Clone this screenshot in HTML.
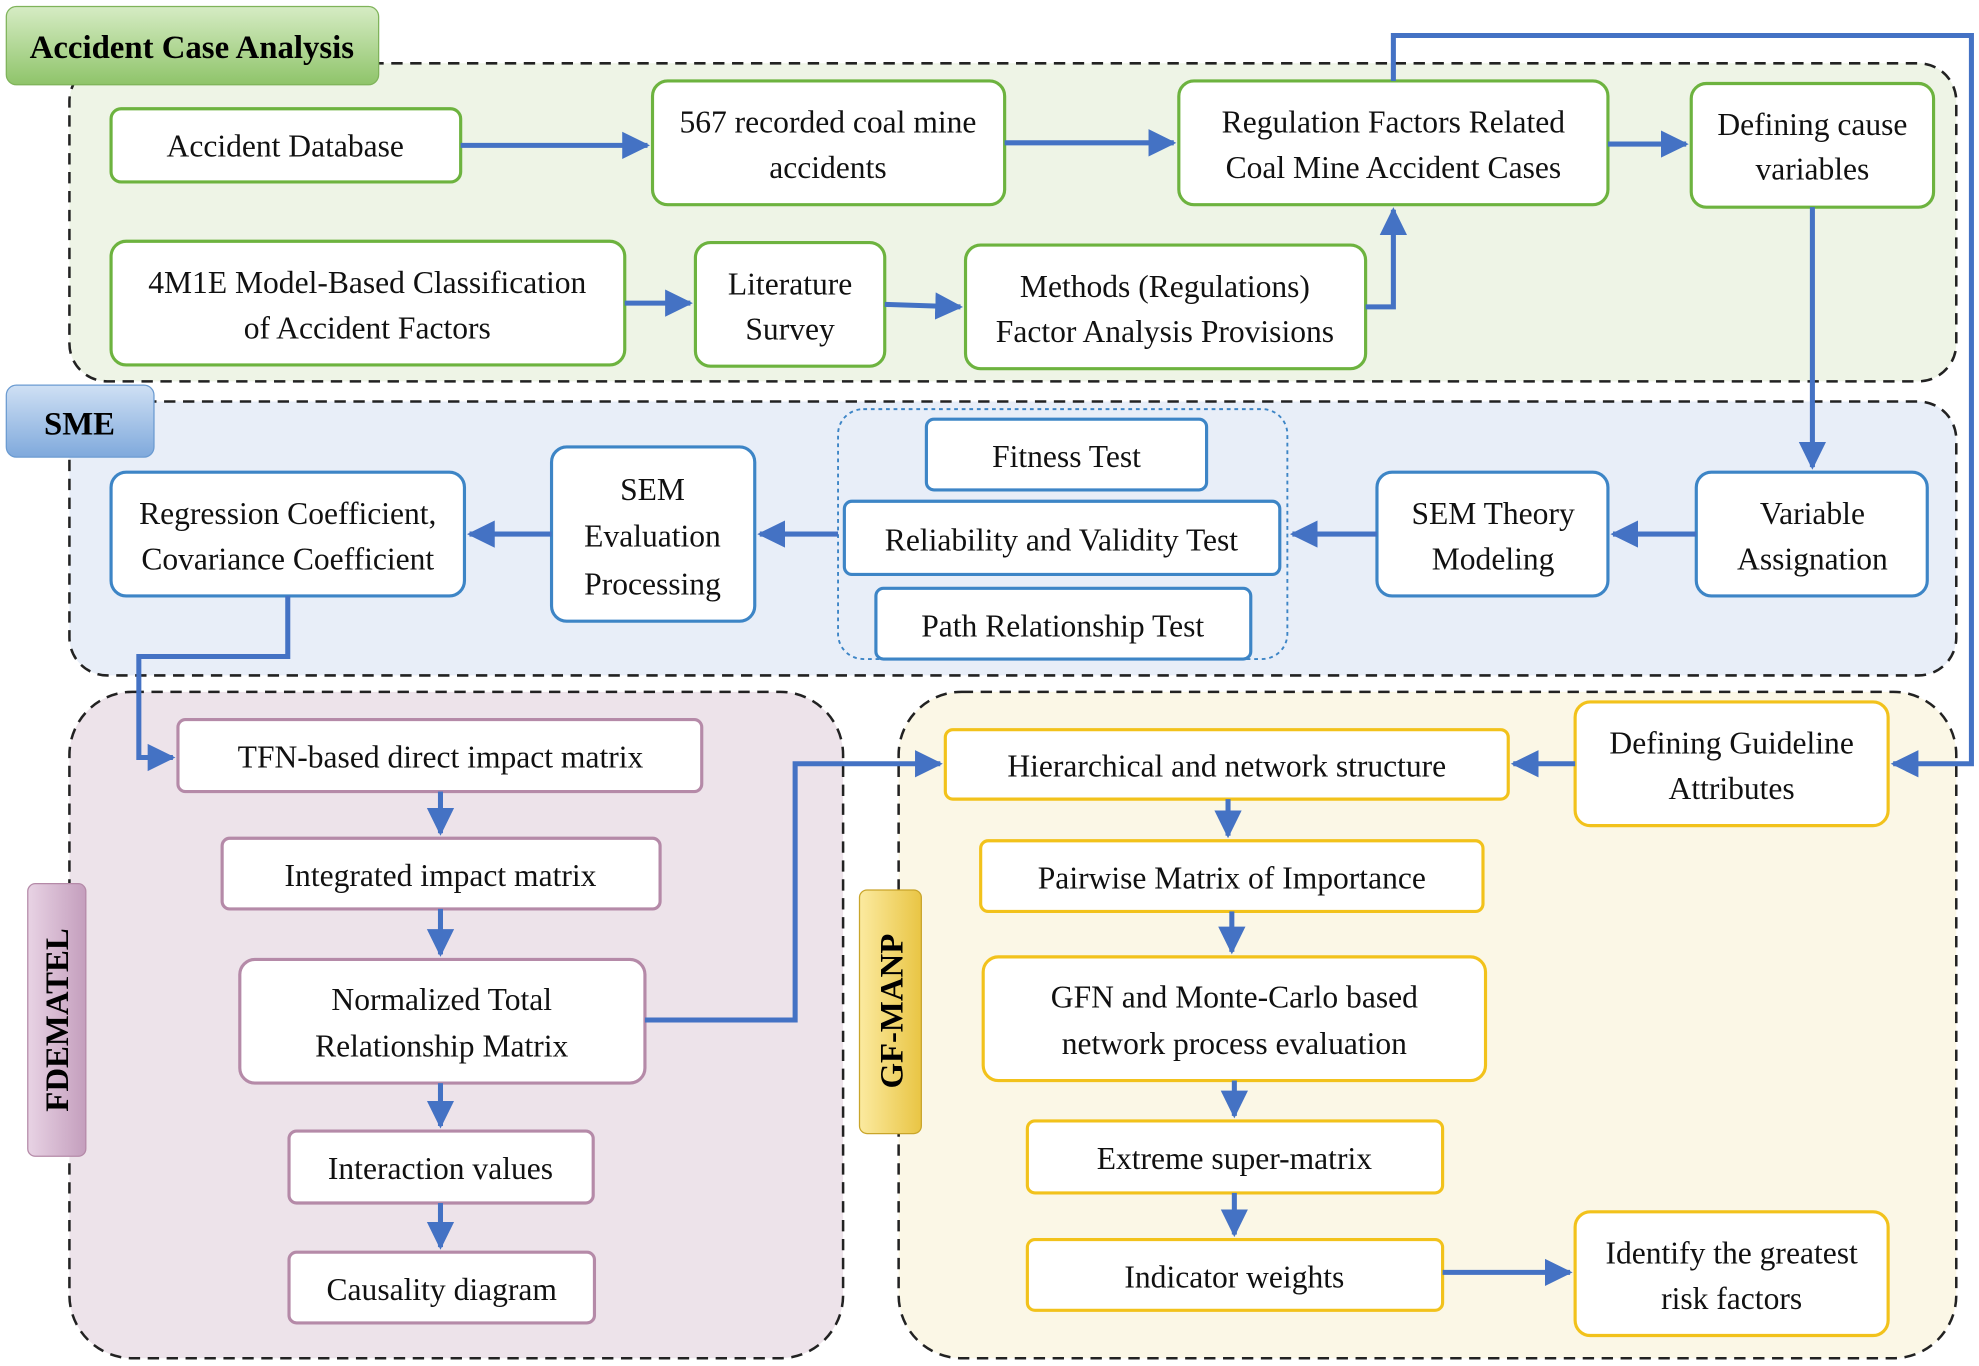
<!DOCTYPE html>
<html><head><meta charset="utf-8"><style>html,body{margin:0;padding:0;background:#fff}svg{display:block}</style></head><body>
<svg width="1979" height="1366" viewBox="0 0 1568 1082" xmlns="http://www.w3.org/2000/svg" font-family="Liberation Serif, serif">
<defs>
<marker id="a" markerWidth="6" markerHeight="6" refX="5" refY="3" orient="auto" markerUnits="strokeWidth"><path d="M0,0.3 L5.5,3 L0,5.7 z" fill="#4472c4"/></marker>
<linearGradient id="gg" x1="0" y1="0" x2="0" y2="1"><stop offset="0" stop-color="#d6ecc4"/><stop offset="1" stop-color="#8fc46a"/></linearGradient>
<linearGradient id="gb" x1="0" y1="0" x2="0" y2="1"><stop offset="0" stop-color="#cfe0f4"/><stop offset="1" stop-color="#7fa9dc"/></linearGradient>
<linearGradient id="gp" x1="0" y1="0" x2="1" y2="0"><stop offset="0" stop-color="#e8d3e4"/><stop offset="1" stop-color="#c49ebd"/></linearGradient>
<linearGradient id="gy" x1="0" y1="0" x2="1" y2="0"><stop offset="0" stop-color="#fbeaa0"/><stop offset="1" stop-color="#e9c544"/></linearGradient>
</defs>
<g stroke="#222" stroke-width="2" stroke-dasharray="9,6">
<rect x="55" y="50" width="1495" height="252" rx="30" fill="#eef4e6"/>
<rect x="55" y="318" width="1495" height="217" rx="30" fill="#e8eef8"/>
<rect x="55" y="548" width="613" height="528" rx="50" fill="#ede3ea"/>
<rect x="712" y="548" width="838" height="528" rx="50" fill="#fbf7e6"/>
</g>
<rect x="5" y="5" width="295" height="62" rx="8" fill="url(#gg)" stroke="#7fb35a"/>
<text x="152" y="46" font-size="26" font-weight="bold" text-anchor="middle">Accident Case Analysis</text>
<rect x="5" y="305" width="117" height="57" rx="8" fill="url(#gb)" stroke="#6b9bd1"/>
<text x="63" y="344" font-size="26" font-weight="bold" text-anchor="middle">SME</text>
<rect x="22" y="700" width="46" height="216" rx="6" fill="url(#gp)" stroke="#b58aa8"/>
<text transform="translate(54,808) rotate(-90)" font-size="26" font-weight="bold" text-anchor="middle">FDEMATEL</text>
<rect x="681" y="705" width="49" height="193" rx="6" fill="url(#gy)" stroke="#c9a52a"/>
<text transform="translate(715,801) rotate(-90)" font-size="26" font-weight="bold" text-anchor="middle">GF-MANP</text>
<rect x="664" y="324" width="356" height="198" rx="20" fill="none" stroke="#3d85c6" stroke-width="1.5" stroke-dasharray="3,3"/>
<g fill="#fff" stroke-width="2.5">
<g stroke="#6db33f">
<rect x="88" y="86" width="277" height="58" rx="8"/><rect x="517" y="64" width="279" height="98" rx="12"/>
<rect x="934" y="64" width="340" height="98" rx="12"/><rect x="1340" y="66" width="192" height="98" rx="12"/>
<rect x="88" y="191" width="407" height="98" rx="12"/><rect x="551" y="192" width="150" height="98" rx="12"/>
<rect x="765" y="194" width="317" height="98" rx="12"/></g>
<g stroke="#3d85c6">
<rect x="88" y="374" width="280" height="98" rx="12"/><rect x="437" y="354" width="161" height="138" rx="12"/>
<rect x="734" y="332" width="222" height="56" rx="6"/><rect x="669" y="397" width="345" height="58" rx="6"/>
<rect x="694" y="466" width="297" height="56" rx="6"/><rect x="1091" y="374" width="183" height="98" rx="12"/>
<rect x="1344" y="374" width="183" height="98" rx="12"/></g>
<g stroke="#b58aa8">
<rect x="141" y="570" width="415" height="57" rx="6"/><rect x="176" y="664" width="347" height="56" rx="6"/>
<rect x="190" y="760" width="321" height="98" rx="12"/><rect x="229" y="896" width="241" height="57" rx="6"/>
<rect x="229" y="992" width="242" height="56" rx="6"/></g>
<g stroke="#f2c21b">
<rect x="749" y="578" width="446" height="55" rx="6"/><rect x="1248" y="556" width="248" height="98" rx="12"/>
<rect x="777" y="666" width="398" height="56" rx="6"/><rect x="779" y="758" width="398" height="98" rx="12"/>
<rect x="814" y="888" width="329" height="57" rx="6"/><rect x="814" y="982" width="329" height="56" rx="6"/>
<rect x="1248" y="960" width="248" height="98" rx="12"/></g>
</g>
<g font-size="25" text-anchor="middle" fill="#111">
<text x="226" y="124">Accident Database</text>
<text x="656" y="105">567 recorded coal mine</text><text x="656" y="141">accidents</text>
<text x="1104" y="105">Regulation Factors Related</text><text x="1104" y="141">Coal Mine Accident Cases</text>
<text x="1436" y="107">Defining cause</text><text x="1436" y="142">variables</text>
<text x="291" y="232">4M1E Model-Based Classification</text><text x="291" y="268">of Accident Factors</text>
<text x="626" y="233">Literature</text><text x="626" y="269">Survey</text>
<text x="923" y="235">Methods (Regulations)</text><text x="923" y="271">Factor Analysis Provisions</text>
<text x="228" y="415">Regression Coefficient,</text><text x="228" y="451">Covariance Coefficient</text>
<text x="517" y="396">SEM</text><text x="517" y="433">Evaluation</text><text x="517" y="471">Processing</text>
<text x="845" y="370">Fitness Test</text>
<text x="841" y="436">Reliability and Validity Test</text>
<text x="842" y="504">Path Relationship Test</text>
<text x="1183" y="415">SEM Theory</text><text x="1183" y="451">Modeling</text>
<text x="1436" y="415">Variable</text><text x="1436" y="451">Assignation</text>
<text x="349" y="608">TFN-based direct impact matrix</text>
<text x="349" y="702">Integrated impact matrix</text>
<text x="350" y="800">Normalized Total</text><text x="350" y="837">Relationship Matrix</text>
<text x="349" y="934">Interaction values</text>
<text x="350" y="1030">Causality diagram</text>
<text x="972" y="615">Hierarchical and network structure</text>
<text x="1372" y="597">Defining Guideline</text><text x="1372" y="633">Attributes</text>
<text x="976" y="704">Pairwise Matrix of Importance</text>
<text x="978" y="798">GFN and Monte-Carlo based</text><text x="978" y="835">network process evaluation</text>
<text x="978" y="926">Extreme super-matrix</text>
<text x="978" y="1020">Indicator weights</text>
<text x="1372" y="1001">Identify the greatest</text><text x="1372" y="1037">risk factors</text>
</g>
<g stroke="#4472c4" stroke-width="4" fill="none" marker-end="url(#a)">
<path d="M365,115 H513"/><path d="M796,113 H930"/><path d="M1274,114 H1336"/>
<path d="M495,240 H547"/><path d="M701,241 L761,243"/><path d="M1082,243 H1104 V166"/>
<path d="M1104,64 V28 H1562 V605 H1500"/>
<path d="M1436,164 V370"/>
<path d="M1344,423 H1278"/><path d="M1091,423 H1024"/><path d="M664,423 H602"/><path d="M437,423 H372"/>
<path d="M228,472 V520 H110 V600 H137"/>
<path d="M349,627 V660"/><path d="M349,720 V756"/><path d="M349,858 V892"/><path d="M349,953 V988"/>
<path d="M511,808 H630 V605 H745"/>
<path d="M1248,605 H1199"/>
<path d="M973,633 V662"/><path d="M976,722 V754"/><path d="M978,856 V884"/><path d="M978,945 V978"/>
<path d="M1143,1008 H1244"/>
</g>
</svg>
</body></html>
